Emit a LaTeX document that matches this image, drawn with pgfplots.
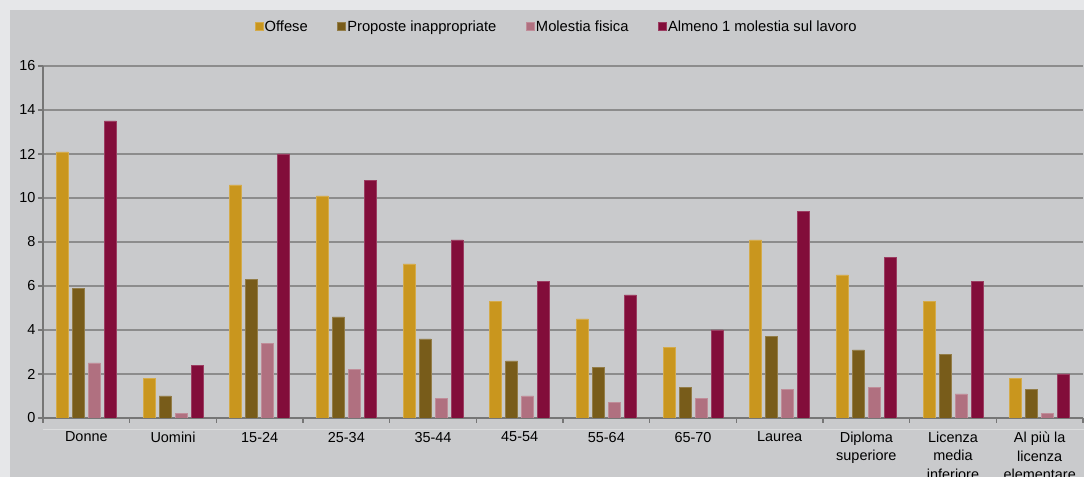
\documentclass[border=0pt]{standalone}
\usepackage{fontspec}
\setmainfont{Liberation Sans}
\usepackage{pgfplots}
\usepackage{pgfplotstable}
\pgfplotsset{compat=1.18}
\definecolor{outerbg}{HTML}{E6E7E9}
\definecolor{panel}{HTML}{C9CACC}
\definecolor{cA}{HTML}{C9961E}
\definecolor{cB}{HTML}{785C1A}
\definecolor{cC}{HTML}{B07080}
\definecolor{cD}{HTML}{820D3A}
\definecolor{gridc}{HTML}{8C8C8C}
\definecolor{axc}{HTML}{767676}

\pgfplotstableread{
x a b c d
0 12.1 5.9 2.5 13.5
1 1.8 1.0 0.2 2.4
2 10.6 6.3 3.4 12.0
3 10.1 4.6 2.2 10.8
4 7.0 3.6 0.9 8.1
5 5.3 2.6 1.0 6.2
6 4.5 2.3 0.7 5.6
7 3.2 1.4 0.9 4.0
8 8.1 3.7 1.3 9.4
9 6.5 3.1 1.4 7.3
10 5.3 2.9 1.1 6.2
11 1.8 1.3 0.2 2.0
}\datatable

\begin{document}
\begin{tikzpicture}[x=1bp,y=1bp]
\fill[outerbg] (0,0) rectangle (1084,477);
\fill[panel] (10,0) rectangle (1084,467);
\draw[draw=white!35!panel, line width=0.6bp] (43,47.5) -- (1084,47.5);
\begin{axis}[
  at={(43bp,59bp)}, anchor=south west,
  width=1040bp, height=352bp, scale only axis,
  xmin=-0.5, xmax=11.5, ymin=0, ymax=16,
  ybar=4bp, bar width=12bp,
  ytick={0,2,...,16},
  xtick={0,...,11},
  xticklabels={Donne,Uomini,15-24,25-34,35-44,45-54,55-64,65-70,Laurea,{Diploma\\superiore},{Licenza\\media\\inferiore},{Al più la\\licenza\\elementare}},
  minor xtick={-0.5,0.5,...,11.5},
  major x tick style={draw=none},
  minor x tick style={draw=axc, line width=1.2bp},
  major y tick style={draw=axc, line width=1.2bp},
  major tick length=5bp, minor tick length=5bp,
  tick align=outside,
  axis x line*=bottom, axis y line*=left,
  x axis line style={draw=axc, line width=1.5bp},
  y axis line style={draw=axc, line width=1.2bp},
  ymajorgrids, grid style={draw=gridc, line width=1.2bp},
  tick label style={font=\fontsize{14.5}{18.5}\selectfont},
  x tick label style={align=center, yshift=-5.5bp},
  y tick label style={xshift=1bp},
  /pgf/number format/assume math mode=true,
  legend columns=4,
  legend style={draw=none, fill=none, at={(0.4936,1.112)}, anchor=center,
    font=\fontsize{14.8}{16}\selectfont,
    /tikz/every even column/.append style={column sep=28bp},
    nodes={inner sep=1.5bp}},
  legend image code/.code={\fill[#1] (0bp,-4bp) rectangle (8bp,4bp);},
]
\addplot[fill=cA, draw=cA!80!white, line width=0.5bp] table[x=x,y=a] {\datatable};
\addplot[fill=cB, draw=cB!80!white, line width=0.5bp] table[x=x,y=b] {\datatable};
\addplot[fill=cC, draw=cC!80!white, line width=0.5bp] table[x=x,y=c] {\datatable};
\addplot[fill=cD, draw=cD!80!white, line width=0.5bp] table[x=x,y=d] {\datatable};
\legend{Offese,Proposte inappropriate,Molestia fisica,Almeno 1 molestia sul lavoro}
\end{axis}
\pgfresetboundingbox
\path[use as bounding box] (0,0) rectangle (1084,477);
\end{tikzpicture}
\end{document}
